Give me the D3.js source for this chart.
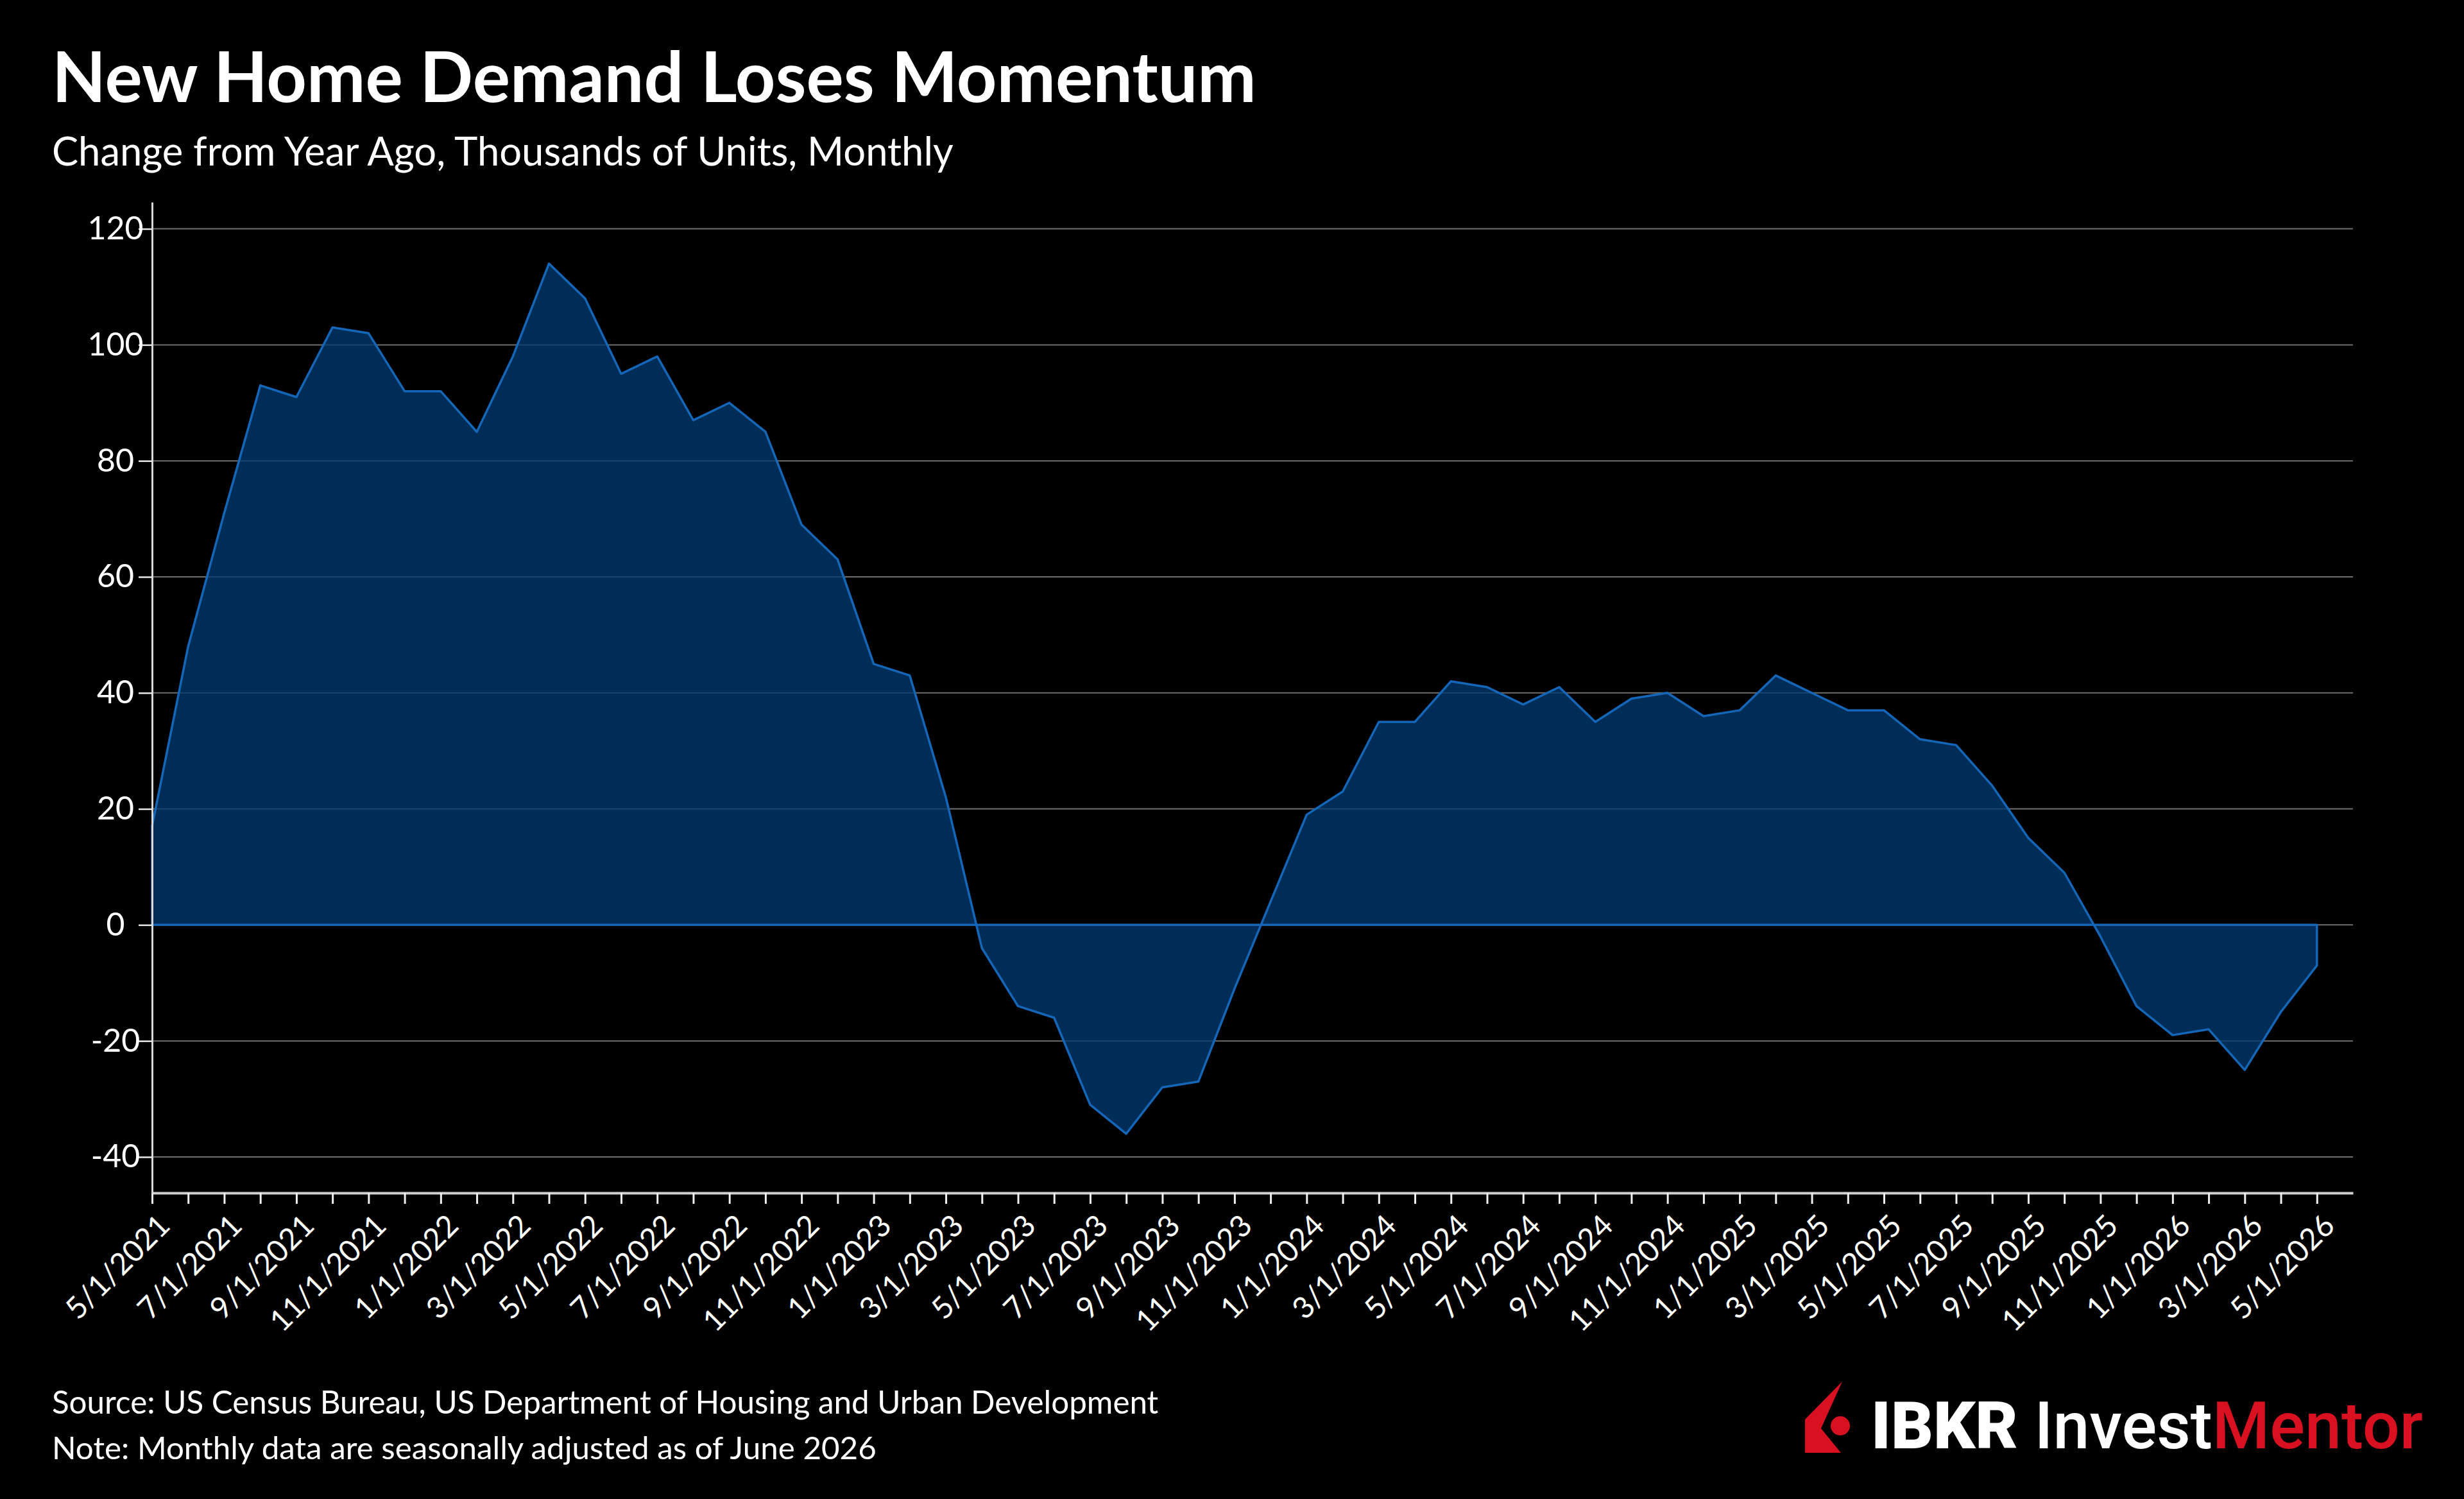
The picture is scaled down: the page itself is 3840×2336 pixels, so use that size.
<!DOCTYPE html>
<html>
<head>
<meta charset="utf-8">
<script src="https://cdn.jsdelivr.net/npm/d3@7"></script>
<style>
  html, body { margin: 0; padding: 0; background: #000; }
  svg { display: block; }
  text { font-family: Lato, "Noto Sans", sans-serif; fill: #fff; }
</style>
</head>
<body>
<div id="chart"></div>
<script>
// Data: change from year ago in new home sales, thousands of units
const dates = [
  "5/1/2021", "6/1/2021", "7/1/2021", "8/1/2021", "9/1/2021", "10/1/2021", "11/1/2021", "12/1/2021",
  "1/1/2022", "2/1/2022", "3/1/2022", "4/1/2022", "5/1/2022", "6/1/2022", "7/1/2022", "8/1/2022",
  "9/1/2022", "10/1/2022", "11/1/2022", "12/1/2022",
  "1/1/2023", "2/1/2023", "3/1/2023", "4/1/2023", "5/1/2023", "6/1/2023", "7/1/2023", "8/1/2023",
  "9/1/2023", "10/1/2023", "11/1/2023", "12/1/2023",
  "1/1/2024", "2/1/2024", "3/1/2024", "4/1/2024", "5/1/2024", "6/1/2024", "7/1/2024", "8/1/2024",
  "9/1/2024", "10/1/2024", "11/1/2024", "12/1/2024",
  "1/1/2025", "2/1/2025", "3/1/2025", "4/1/2025", "5/1/2025", "6/1/2025", "7/1/2025", "8/1/2025",
  "9/1/2025", "10/1/2025", "11/1/2025", "12/1/2025",
  "1/1/2026", "2/1/2026", "3/1/2026", "4/1/2026", "5/1/2026"
];
const values = [
  17, 48, 71, 93, 91, 103, 102, 92,
  92, 85, 98, 114, 108, 95, 98, 87, 90, 85, 69, 63,
  45, 43, 22, -4, -14, -16, -31, -36, -28, -27, -11, 4,
  19, 23, 35, 35, 42, 41, 38, 41, 35, 39, 40, 36,
  37, 43, 40, 37, 37, 32, 31, 24, 15, 9, -2, -14,
  -19, -18, -25, -15, -7
];
const yTicks = [-40, -20, 0, 20, 40, 60, 80, 100, 120];
const yDomain = [-46.2, 124.6];

const title = "New Home Demand Loses Momentum";
const subtitle = "Change from Year Ago, Thousands of Units, Monthly";
const sourceNote = "Source: US Census Bureau, US Department of Housing and Urban Development";
const dataNote = "Note: Monthly data are seasonally adjusted as of June 2026";

// Layout
const W = 3840, H = 2336;
const plot = { left: 237, right: 3667, top: 315, bottom: 1859 };

const svg = d3.select("#chart").append("svg")
    .attr("width", W)
    .attr("height", H);

svg.append("rect").attr("width", W).attr("height", H).attr("fill", "#000");

// shrink/grow a text so it spans a given width
function fitWidth(sel, target) {
    const len = sel.node().getComputedTextLength();
    const fs = parseFloat(sel.attr("font-size"));
    sel.attr("font-size", fs * target / len);
}

// Scales (one extra empty slot at the right end, like the original)
const x = d3.scaleLinear()
    .domain([0, dates.length])
    .range([plot.left, plot.right]);

const y = d3.scaleLinear()
    .domain(yDomain)
    .range([plot.bottom, plot.top]);

// Gridlines
svg.append("g")
    .selectAll("line")
    .data(yTicks)
    .enter()
    .append("line")
    .attr("x1", plot.left)
    .attr("x2", plot.right)
    .attr("y1", d => y(d))
    .attr("y2", d => y(d))
    .attr("stroke", "#6e6e6e")
    .attr("stroke-width", 2);

// Area
const area = d3.area()
    .x((d, i) => x(i))
    .y0(y(0))
    .y1(d => y(d));

svg.append("path")
    .datum(values)
    .attr("d", area)
    .attr("fill", "#003a6f")
    .attr("fill-opacity", 0.78)
    .attr("stroke", "#1366b8")
    .attr("stroke-width", 3.5)
    .attr("stroke-linejoin", "round");

// X axis
const xAxis = svg.append("g")
    .attr("transform", `translate(0,${plot.bottom})`)
    .call(d3.axisBottom(x)
        .tickValues(d3.range(dates.length))
        .tickFormat((d, i) => i % 2 === 0 ? dates[i] : "")
        .tickSize(17)
        .tickSizeOuter(0));

xAxis.select(".domain").attr("stroke", "#cfcfcf").attr("stroke-width", 4);
xAxis.selectAll(".tick line").attr("stroke", "#f0f0f0").attr("stroke-width", 3);
xAxis.selectAll(".tick text")
    .attr("x", 0)
    .attr("y", 0)
    .attr("dy", 0)
    .attr("transform", "translate(30,54) rotate(-45)")
    .attr("text-anchor", "end")
    .attr("font-size", 47)
    .attr("font-family", "Lato, 'Noto Sans', sans-serif")
    .attr("fill", "#fff");

// Y axis (plain hyphen for negatives, as in the original)
const yAxis = svg.append("g")
    .attr("transform", `translate(${plot.left},0)`)
    .call(d3.axisLeft(y)
        .tickValues(yTicks)
        .tickFormat(d => String(d))
        .tickSize(21)
        .tickSizeOuter(0));

yAxis.select(".domain").attr("stroke", "#d8d8d8").attr("stroke-width", 3);
yAxis.selectAll(".tick line").attr("stroke", "#e8e8e8").attr("stroke-width", 2.5);
yAxis.selectAll(".tick text")
    .attr("x", -57)
    .attr("text-anchor", "middle")
    .attr("font-size", 50)
    .attr("font-family", "Lato, 'Noto Sans', sans-serif")
    .attr("fill", "#fff");

// Titles
const titleText = svg.append("text")
    .attr("x", 81)
    .attr("y", 159)
    .attr("font-size", 120)
    .attr("font-weight", 700)
    .text(title);
fitWidth(titleText, 1877);

const subText = svg.append("text")
    .attr("x", 81)
    .attr("y", 258)
    .attr("font-size", 62)
    .text(subtitle);
fitWidth(subText, 1405);

// Footer notes
const src = svg.append("text")
    .attr("x", 81)
    .attr("y", 2203)
    .attr("font-size", 50)
    .text(sourceNote);
fitWidth(src, 1725);

const note = svg.append("text")
    .attr("x", 81)
    .attr("y", 2274)
    .attr("font-size", 50)
    .text(dataNote);
fitWidth(note, 1285);

// Logo
const logo = svg.append("g");
logo.append("path")
    .attr("d", "M2871,2153 L2813,2212 L2813,2264 L2869,2264 L2838,2226 Z")
    .attr("fill", "#d8101f");
logo.append("circle")
    .attr("cx", 2868)
    .attr("cy", 2222)
    .attr("r", 15)
    .attr("fill", "#d8101f");

const logoText = logo.append("text")
    .attr("x", 2916)
    .attr("y", 2257)
    .attr("font-size", 105)
    .style("font-family", "Roboto, 'Liberation Sans', sans-serif");
logoText.append("tspan").attr("font-weight", 900).text("IBKR ");
logoText.append("tspan").attr("font-weight", 500).text("Invest");
logoText.append("tspan").attr("font-weight", 500).style("fill", "#d8101f").text("Mentor");
fitWidth(logoText, 860);
</script>
</body>
</html>
